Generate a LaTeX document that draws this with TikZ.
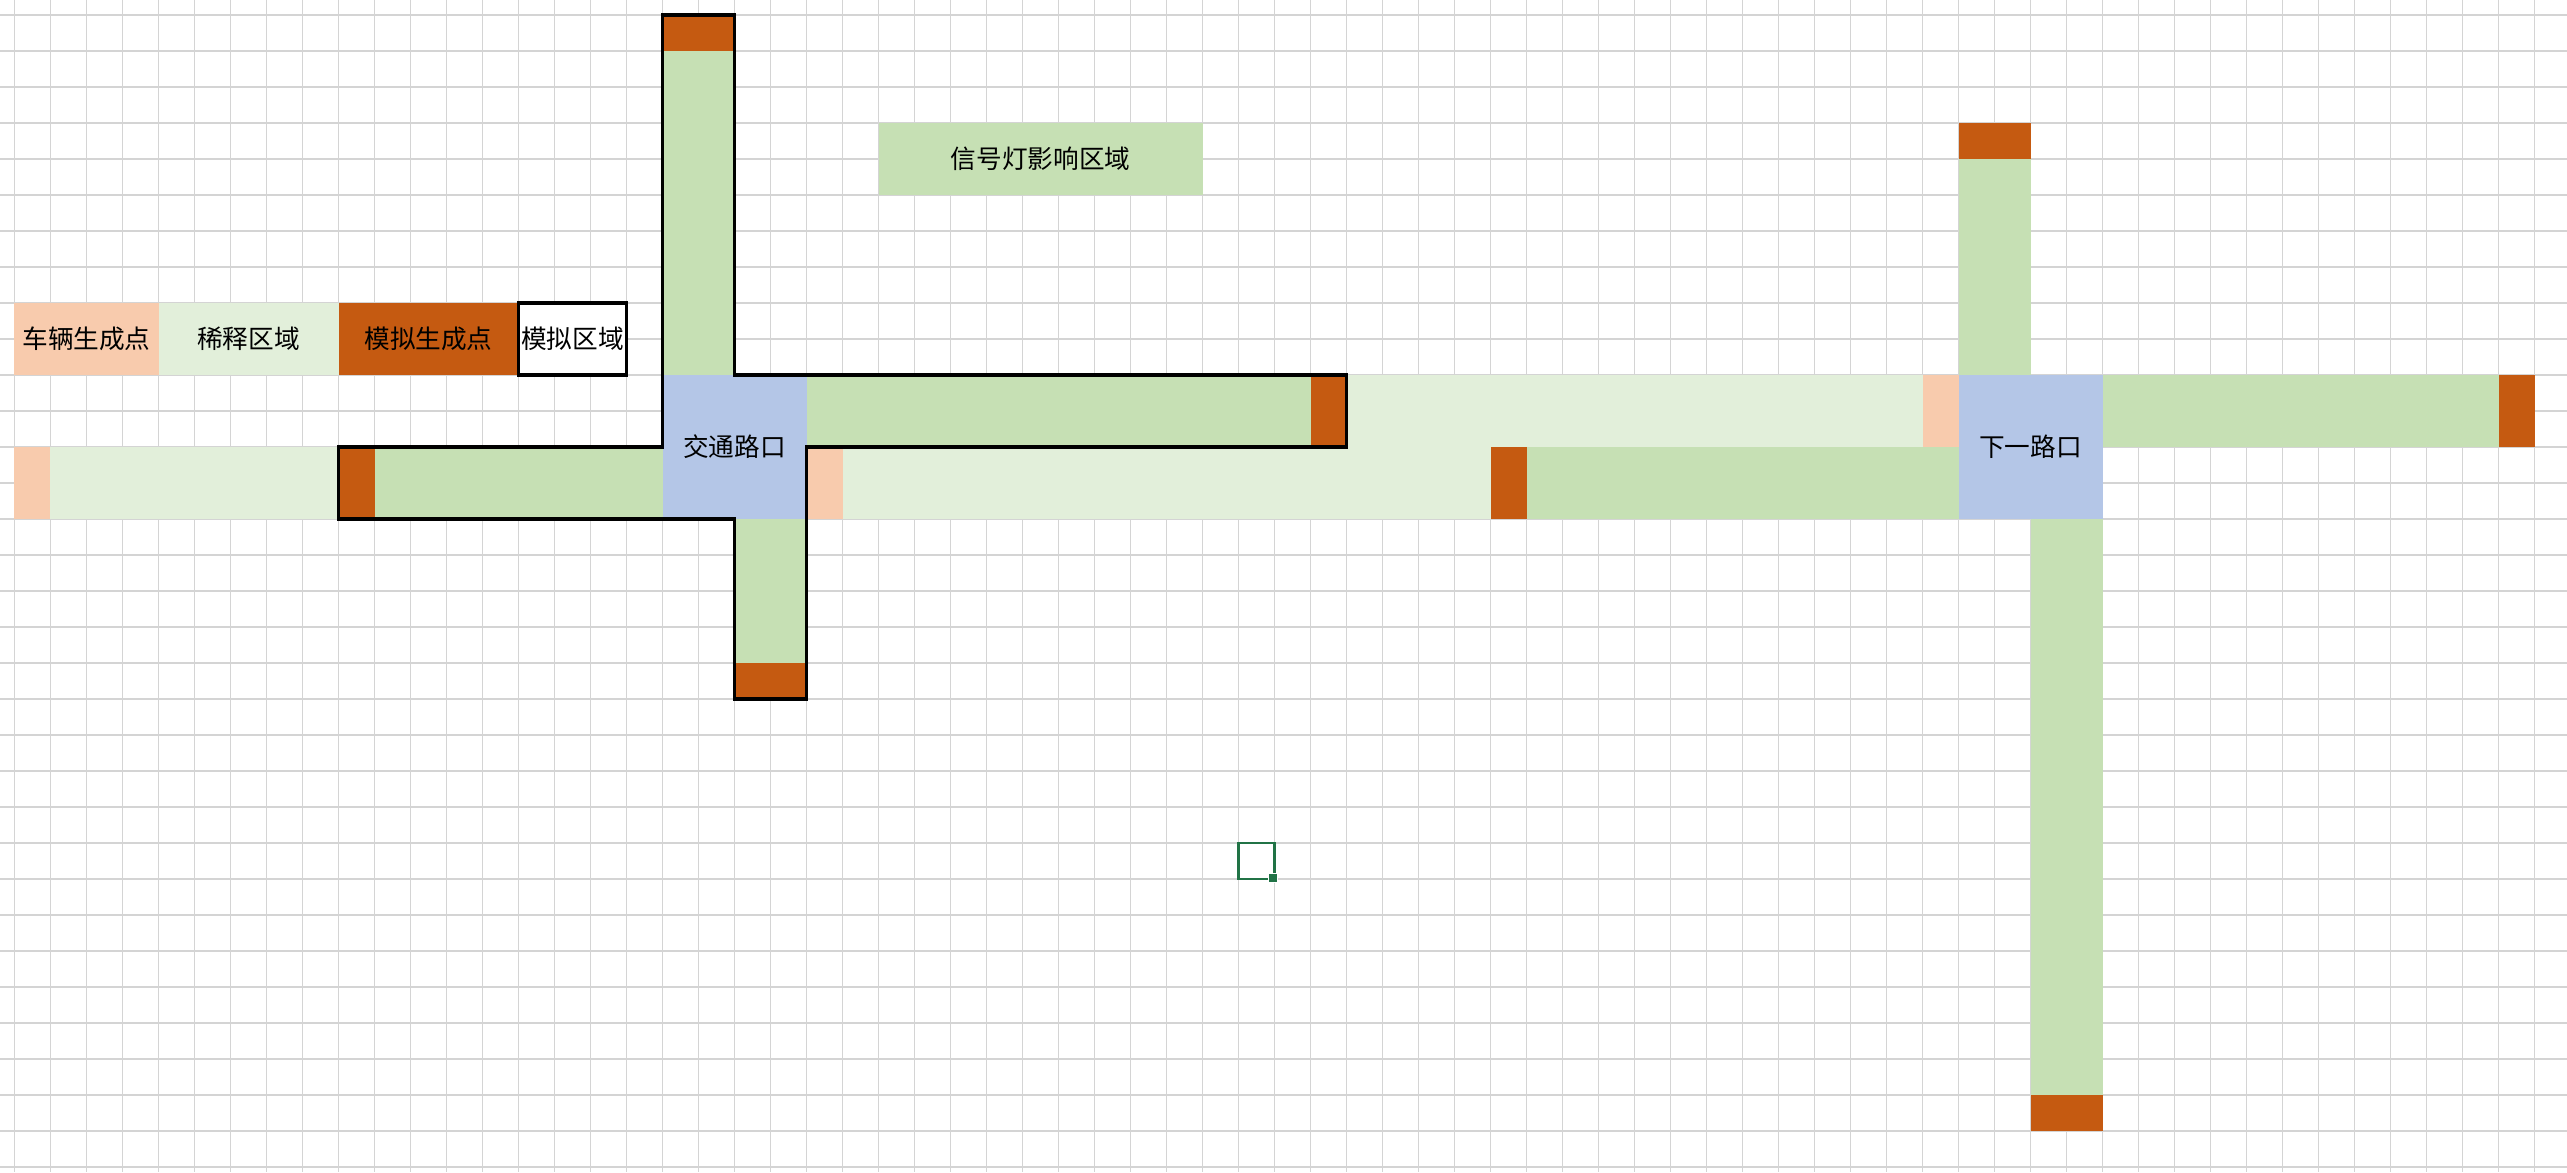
\documentclass[tikz,border=0pt]{standalone}
\usepackage{fontspec}
\setmainfont{Noto Sans CJK SC}
\definecolor{gridgray}{HTML}{D4D4D4}
\definecolor{peach}{HTML}{F8CBAD}
\definecolor{palegreen}{HTML}{E2EFDA}
\definecolor{rust}{HTML}{C55A11}
\definecolor{roadgreen}{HTML}{C6E0B4}
\definecolor{crossblue}{HTML}{B4C6E7}
\definecolor{selgreen}{HTML}{217346}
\begin{document}
\begin{tikzpicture}[x=0.36cm,y=-0.36cm,
  gridline/.style={draw=gridgray, line width=0.35pt},
  outline/.style={draw=black, line width=0.9pt},
  celltext/.style={font=\fontsize{7.3pt}{9pt}\selectfont, inner sep=0pt, text=black},
  selbox/.style={draw=selgreen, line width=0.6pt},
]
% sheet area and cell grid (one unit = one cell)
\useasboundingbox (-0.4028,-0.4167) rectangle (70.9028,32.1389);
\fill[white] (-0.4028,-0.4167) rectangle (70.9028,32.1389);
\foreach \i in {0,...,70} \draw[gridline] (\i,-0.4167) -- (\i,32.1389);
\foreach \j in {0,...,32} \draw[gridline] (-0.4028,\j) -- (70.9028,\j);

% legend row
\fill[peach] (0,8) rectangle (4,10);
\fill[palegreen] (4,8) rectangle (9,10);
\fill[rust] (9,8) rectangle (14,10);
\fill[white] (14,8) rectangle (17,10);
\draw[outline] (14,8) rectangle (17,10);

% signal influence label cell
\fill[roadgreen] (24,3) rectangle (33,5);

% first intersection: approaches
\fill[rust] (18,0) rectangle (20,1);
\fill[roadgreen] (18,1) rectangle (20,10);
\fill[crossblue] (18,10) rectangle (22,14);
\fill[roadgreen] (22,10) rectangle (36,12);
\fill[rust] (36,10) rectangle (37,12);
\fill[palegreen] (37,10) rectangle (53,12);
\fill[peach] (53,10) rectangle (54,12);
\fill[peach] (0,12) rectangle (1,14);
\fill[palegreen] (1,12) rectangle (9,14);
\fill[rust] (9,12) rectangle (10,14);
\fill[roadgreen] (10,12) rectangle (18,14);
\fill[roadgreen] (20,14) rectangle (22,18);
\fill[rust] (20,18) rectangle (22,19);
\fill[peach] (22,12) rectangle (23,14);
\fill[palegreen] (23,12) rectangle (41,14);
\fill[rust] (41,12) rectangle (42,14);
\fill[roadgreen] (42,12) rectangle (54,14);

% next intersection: approaches
\fill[crossblue] (54,10) rectangle (58,14);
\fill[rust] (54,3) rectangle (56,4);
\fill[roadgreen] (54,4) rectangle (56,10);
\fill[roadgreen] (58,10) rectangle (69,12);
\fill[rust] (69,10) rectangle (70,12);
\fill[roadgreen] (56,14) rectangle (58,30);
\fill[rust] (56,30) rectangle (58,31);

% boundary of the simulated cross
\draw[outline, line join=miter] (18,0) -- (20,0) -- (20,10) -- (37,10) -- (37,12)
  -- (22,12) -- (22,19) -- (20,19) -- (20,14) -- (9,14) -- (9,12) -- (18,12) -- cycle;

% cell texts
\node[celltext] (spawn) at (2,9) {车辆生成点};
\node[celltext] (dilute) at (6.5,9) {稀释区域};
\node[celltext] (simspawn) at (11.5,9) {模拟生成点};
\node[celltext] (simarea) at (15.5,9) {模拟区域};
\node[celltext] (signal) at (28.5,4) {信号灯影响区域};
\node[celltext] (cross) at (20,12) {交通路口};
\node[celltext] (nextcross) at (56,12) {下一路口};

% active cell cursor with fill handle
\draw[selbox] (34,23) rectangle (35,24);
\fill[white] (34.83,23.84) rectangle (35.11,24.12);
\fill[selgreen] (34.86,23.87) rectangle (35.08,24.09);
\end{tikzpicture}
\end{document}
